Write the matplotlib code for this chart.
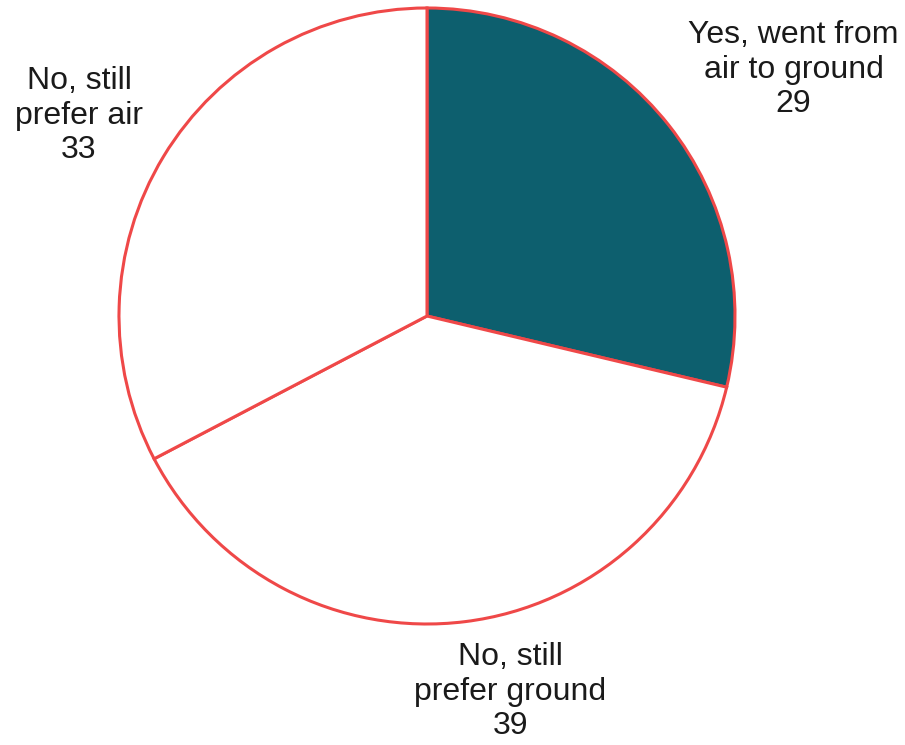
import numpy as np
from matplotlib import pyplot as plt

plt.rcParams['font.family'] = ['Liberation Sans', 'DejaVu Sans']

labels = ['Yes, went from\nair to ground', 'No, still\nprefer ground', 'No, still\nprefer air']
values = [29, 39, 33]
colors = ['#0d5f6e', '#ffffff', '#ffffff']

fig = plt.figure(figsize=(9.05, 7.45), dpi=100)
# pie centre at ~(427, 316) px, radius ~308 px
ax = fig.add_axes([(427-308)/905, (745-316-308)/745, 616/905, 616/745])

wedges, _ = ax.pie(values, colors=colors, startangle=90, counterclock=False,
                   radius=1, wedgeprops=dict(edgecolor='#ef4848', linewidth=2.2))

''' label positions relative to the centre, in radius units '''
label_xy = [(1.19, 0.80), (0.27, -1.22), (-1.13, 0.65)]
for lab, val, (x, y) in zip(labels, values, label_xy):
    ax.text(x, y, f'{lab}\n{val}', ha='center', va='center', fontsize=23,
            color='#1a1a1a', linespacing=1.2)

ax.set_xlim(-1, 1)
ax.set_ylim(-1, 1)
ax.set_aspect('equal')
ax.axis('off')

plt.savefig('out.png', dpi=100)
plt.close()
